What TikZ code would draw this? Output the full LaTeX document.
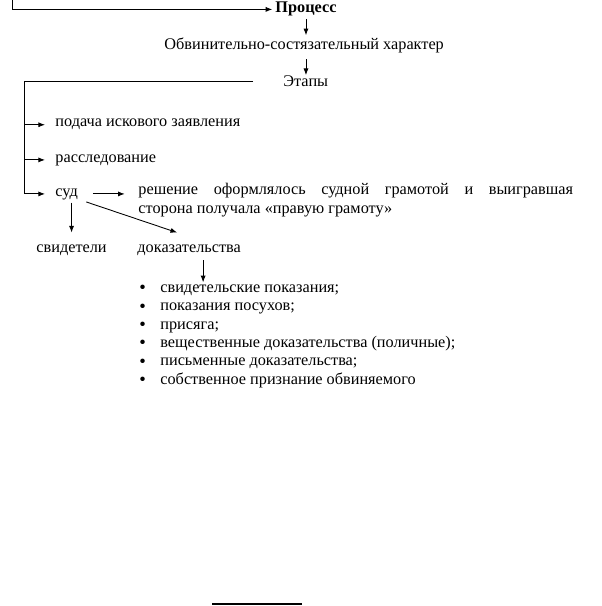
\documentclass[tikz,border=0pt]{standalone}
\usepackage{fontspec}
\setmainfont{Liberation Serif}
\usetikzlibrary{arrows.meta,positioning}
\newcommand{\evbullet}{\raisebox{-1pt}{\fontsize{14pt}{13.8pt}\selectfont\textbullet}}
\begin{document}
\fontsize{12.2pt}{13.8pt}\selectfont
\begin{tikzpicture}[x=0.75pt,y=-0.75pt,line width=0.65pt,
		txt/.style={inner sep=0pt,anchor=base west},
		arr/.style={-{Latex[length=5pt,width=3.8pt]}}]
	\useasboundingbox (0,0) rectangle (602,606);
	% top of the chain
	\node[txt,font=\bfseries] (proc) at (275,13) {Процесс};
	\node[txt] (nature) at (164,50) {Обвинительно-состязательный характер};
	\node[txt] (stages) at (283,87) {Этапы};
	\coordinate (top) at (12,0);
	\draw[arr] (top) |- ([xshift=-2pt]proc.west);
	\draw[arr,shorten <=1.5pt,shorten >=2pt] (proc.south) -- (proc.south |- nature.north);
	\draw[arr,shorten <=4pt,shorten >=0.5pt] (proc.south |- nature.south) -- (proc.south |- stages.north);
	% stages
	\node[txt] (filing) at (55,127) {подача искового заявления};
	\node[txt] (inquiry) at (55,162) {расследование};
	\node[txt] (court) at (55,196) {суд};
	\coordinate[left=22.5pt of stages.west] (split);
	\coordinate (trunk) at (24,81);
	\draw (split) -- (split -| trunk) -- (trunk |- court.west);
	\draw[arr,shorten >=7.5pt] (trunk |- filing.west) -- (filing.west);
	\draw[arr,shorten >=7.5pt] (trunk |- inquiry.west) -- (inquiry.west);
	\draw[arr,shorten >=7.5pt] (trunk |- court.west) -- (court.west);
	% court
	\node[txt,anchor=north west,text width=326pt,align=justify] (verdict) at (138,183)
		{решение оформлялось судной грамотой и выигравшая\linebreak сторона получала «правую грамоту»};
	\draw[arr,shorten <=11pt,shorten >=10pt] (court.east) -- (court.east -| verdict.west);
	\node[txt] (witnesses) at (36,252) {свидетели};
	\node[txt] (evidence) at (137,252) {доказательства};
	\draw[arr,shorten <=2pt,shorten >=8.5pt] (witnesses.north |- court.south) -- (witnesses.north);
	\draw[arr] ([xshift=6pt,yshift=-1.5pt]court.south east) -- ([xshift=-9pt,yshift=8.5pt]evidence.north);
	% kinds of evidence
	\node[txt,anchor=north west] (kinds) at (139,279) {%
		\begin{tabular}{@{}l@{\hspace{10.8pt}}l@{}}
			\evbullet & свидетельские показания;\\
			\evbullet & показания посухов;\\
			\evbullet & присяга;\\
			\evbullet & вещественные доказательства (поличные);\\
			\evbullet & письменные доказательства;\\
			\evbullet & собственное признание обвиняемого
		\end{tabular}};
	\draw[arr,shorten <=3.5pt,shorten >=-2.5pt] ([xshift=10.5pt]evidence.south) -- ([xshift=10.5pt]evidence.south |- kinds.north);
	% footnote rule
	\draw[line width=1.2pt] (212,604) -- (302,604);
\end{tikzpicture}
\end{document}
